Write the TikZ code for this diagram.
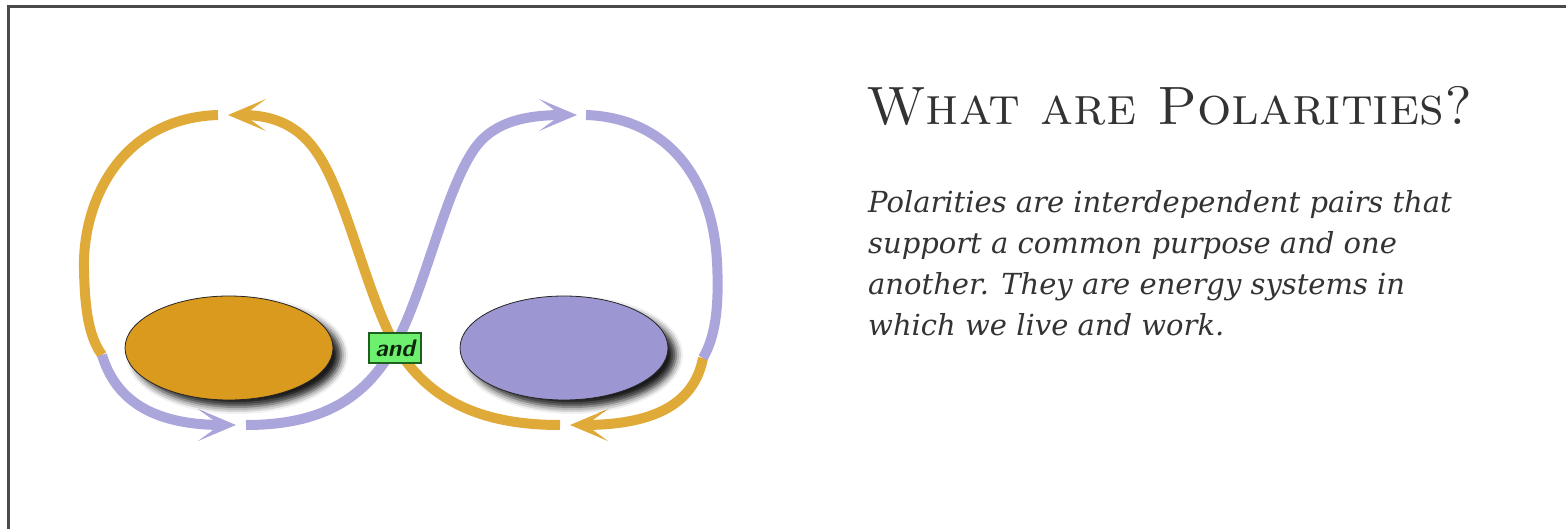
\documentclass[tikz,border=0pt]{standalone}
\usepackage{fontspec}
\usepackage{tikz}
\usetikzlibrary{arrows.meta, shapes.geometric, shadows.blur}
\newfontfamily\bodyserif{DejaVu Serif}
\definecolor{polgold}{HTML}{D99A1E}
\definecolor{polgoldline}{HTML}{DFAA38}
\definecolor{pollilac}{HTML}{9C97D3}
\definecolor{pollilacline}{HTML}{AAA6DB}
\definecolor{andgreen}{HTML}{6DF06D}
\definecolor{anddark}{HTML}{1E5E1E}
\definecolor{inkgray}{HTML}{333333}
\definecolor{framegray}{HTML}{4A4A4A}
\tikzset{
  pole/.style={ellipse,draw=black!85,line width=0.8pt,fill=#1,minimum width=208pt,
    minimum height=104pt,inner sep=0pt,
    blur shadow={shadow xshift=8pt,shadow yshift=-7pt,shadow blur radius=7pt,shadow opacity=90}},
  flow/.style={line width=10pt,draw=#1},
  flowtip/.style={flow=#1,-{Stealth[length=38pt,width=32pt,inset=22pt]}},
  andbox/.style={rectangle,draw=anddark,line width=1.5pt,fill=andgreen,minimum width=52pt,
    minimum height=30pt,inner sep=0pt,font=\sffamily\bfseries\itshape\fontsize{24}{24}\selectfont,
    text=anddark!40!black},
}

\begin{document}
\begin{tikzpicture}[x=1pt,y=-1pt]
  \useasboundingbox (0,0) rectangle (1566,529);
  \draw[framegray,line width=3pt] (8,529) -- (8,7) -- (1566,7);

  \coordinate (gtopend) at (218,115);
  \coordinate (gtoptip) at (228,115);
  \coordinate (gbotend) at (560,425);
  \coordinate (gbottip) at (570,425);
  \coordinate (ltopend) at (586,115);
  \coordinate (ltoptip) at (577,115);
  \coordinate (lbotend) at (246,425);
  \coordinate (lbottip) at (236,425);
  \coordinate (cross) at (395,345);
  \coordinate (leftswap) at (102,355);
  \coordinate (rightswap) at (703,358);

  \draw[flowtip=polgoldline] (gbotend) .. controls (480,425) and (428,400) .. (cross)
    .. controls (365,290) and (345,190) .. (315,150) .. controls (295,122) and (268,115) .. (gtoptip);
  \draw[flow=polgoldline] (gtopend) .. controls (122,118) and (82,200) .. (84,270)
    .. controls (85,315) and (90,338) .. (leftswap);
  \draw[flowtip=polgoldline] (rightswap) .. controls (695,400) and (660,425) .. (gbottip);
  \draw[flowtip=pollilacline] (leftswap) .. controls (115,398) and (150,425) .. (lbottip);
  \draw[flowtip=pollilacline] (lbotend) .. controls (320,425) and (365,400) .. (cross)
    .. controls (425,290) and (445,190) .. (475,148) .. controls (495,120) and (530,115) .. (ltoptip);
  \draw[flow=pollilacline] (ltopend) .. controls (670,118) and (713,182) .. (717,262)
    .. controls (720,318) and (712,342) .. (rightswap);

  \node[pole=polgold] (plus) at (229,348) {};
  \node[pole=pollilac] (minus) at (564,348) {};
  \node[andbox] (and) at (395,348) {and};

  \node[anchor=base west,inner sep=0pt,text=inkgray,font=\fontsize{54}{54}\selectfont] (title)
    at (866,125) {\textsc{What are Polarities?}};
  \node[anchor=north west,inner sep=0pt,align=left,text=inkgray,
    font=\bodyserif\itshape\fontsize{29}{41}\selectfont] (desc) at (868,190)
    {Polarities are interdependent pairs that\\
     support a common purpose and one\\
     another. They are energy systems in\\
     which we live and work.};
\end{tikzpicture}
\end{document}
